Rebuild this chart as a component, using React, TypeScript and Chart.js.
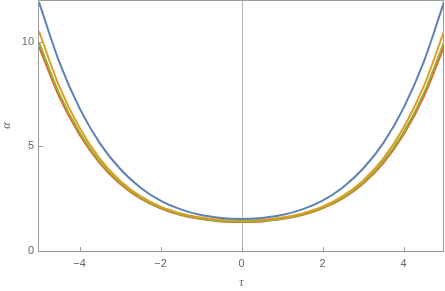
import { useEffect, useRef } from "react";
import { Chart, registerables } from "chart.js";

Chart.register(...registerables);

const tau = [-5, -4.5, -4, -3.5, -3, -2.5, -2, -1.5, -1, -0.5, 0, 0.5, 1, 1.5, 2, 2.5, 3, 3.5, 4, 4.5, 5];
const alphaBlue = [11.9, 9.04, 6.83, 5.16, 3.93, 3.04, 2.41, 1.99, 1.72, 1.58, 1.53, 1.58, 1.72, 1.99, 2.41, 3.04, 3.93, 5.16, 6.83, 9.04, 11.9];
const alphaOrange = [10.5, 7.87, 5.89, 4.42, 3.36, 2.62, 2.12, 1.8, 1.6, 1.5, 1.47, 1.5, 1.6, 1.8, 2.12, 2.62, 3.36, 4.42, 5.89, 7.87, 10.5];
const alphaGreen = [9.98, 7.52, 5.66, 4.27, 3.26, 2.55, 2.06, 1.74, 1.54, 1.43, 1.4, 1.43, 1.54, 1.74, 2.06, 2.55, 3.26, 4.27, 5.66, 7.52, 9.98];
const alphaRed = [9.78, 7.39, 5.57, 4.21, 3.22, 2.52, 2.04, 1.72, 1.53, 1.42, 1.39, 1.42, 1.53, 1.72, 2.04, 2.52, 3.22, 4.21, 5.57, 7.39, 9.78];
const xTicks = [-4, -2, 0, 2, 4];
const yTicks = [0, 5, 10];

const toPoints = (ys: number[]) => ys.map((y, i) => ({ x: tau[i], y }));

const framePlugin = {
  id: "frame",
  beforeDatasetsDraw(chart: any) {
    const { ctx, chartArea, scales } = chart;
    const { left, right, top, bottom } = chartArea;
    const x = scales.x;
    const y = scales.y;
    ctx.save();
    ctx.lineWidth = 1;
    ctx.strokeStyle = "#b5b5b5";
    const x0 = Math.round(x.getPixelForValue(0)) + 0.5;
    ctx.beginPath();
    ctx.moveTo(x0, top);
    ctx.lineTo(x0, bottom);
    ctx.stroke();
    ctx.strokeStyle = "#9a9a9a";
    ctx.strokeRect(left - 0.5, top + 0.5, right - left, bottom - top);
    ctx.beginPath();
    for (const v of xTicks) {
      const px = Math.round(x.getPixelForValue(v)) + 0.5;
      ctx.moveTo(px, bottom);
      ctx.lineTo(px, bottom - 4);
    }
    for (const v of yTicks) {
      const py = Math.round(y.getPixelForValue(v)) + 0.5;
      ctx.moveTo(left, py);
      ctx.lineTo(left + 4, py);
    }
    ctx.stroke();
    ctx.restore();
  },
};

export default function App() {
  const ref = useRef<HTMLCanvasElement | null>(null);
  useEffect(() => {
    document.body.style.margin = "0";
    const canvas = ref.current;
    if (!canvas) return;
    const mk = (label: string, data: number[], color: string, w: number) => ({
      label,
      data: toPoints(data),
      borderColor: color,
      backgroundColor: color,
      borderWidth: w,
      pointRadius: 0,
      cubicInterpolationMode: "monotone" as const,
      fill: false,
    });
    const chart = new Chart(canvas, {
      type: "line",
      data: {
        datasets: [
          mk("a", alphaBlue, "#5E81B5", 2),
          mk("b", alphaOrange, "#E19C24", 2),
          mk("c", alphaGreen, "#8FB032", 2),
          mk("d", alphaRed, "#EB6235", 2.2),
        ],
      },
      plugins: [framePlugin],
      options: {
        animation: false,
        responsive: false,
        maintainAspectRatio: false,
        layout: { padding: { top: 0, right: 1, left: 0, bottom: 0 } },
        plugins: { legend: { display: false }, tooltip: { enabled: false } },
        scales: {
          x: {
            type: "linear",
            min: -5,
            max: 5,
            grid: { display: false, drawTicks: false },
            border: { display: false },
            afterBuildTicks: (s: any) => {
              s.ticks = xTicks.map((v) => ({ value: v }));
            },
            afterFit: (s: any) => {
              s.height = 40;
              s.paddingLeft = 0;
              s.paddingRight = 0;
            },
            ticks: {
              padding: 6,
              color: "#666666",
              font: { family: "'Liberation Sans', sans-serif", size: 11 },
              callback: (v: any) => String(v).replace("-", "\u2212"),
            },
            title: {
              display: true,
              text: "τ",
              color: "#666666",
              padding: { top: 0, bottom: 1 },
              font: { family: "'Liberation Serif', serif", size: 12, style: "italic" },
            },
          },
          y: {
            type: "linear",
            min: 0,
            max: 12,
            grid: { display: false, drawTicks: false },
            border: { display: false },
            afterBuildTicks: (s: any) => {
              s.ticks = yTicks.map((v) => ({ value: v }));
            },
            afterFit: (s: any) => {
              s.width = 39;
              s.paddingTop = 0;
              s.paddingBottom = 0;
            },
            ticks: {
              padding: 5,
              color: "#666666",
              font: { family: "'Liberation Sans', sans-serif", size: 11 },
            },
            title: {
              display: true,
              text: "α",
              color: "#666666",
              padding: { top: 0, bottom: 0 },
              font: { family: "'Liberation Serif', serif", size: 12, style: "italic" },
            },
          },
        },
      },
    });
    return () => chart.destroy();
  }, []);
  return (
    <div style={{ position: "absolute", left: 0, top: 0, width: 445, height: 291 }}>
      <canvas ref={ref} width={445} height={291} style={{ width: 445, height: 291, display: "block" }} />
    </div>
  );
}
